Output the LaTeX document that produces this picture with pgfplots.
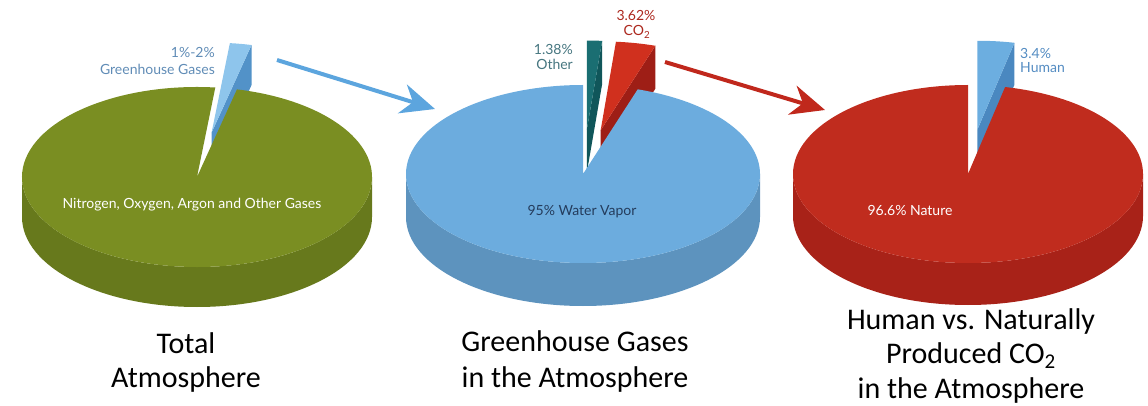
\documentclass[border=0pt]{standalone}
\usepackage{pgfplots}
\pgfplotsset{compat=1.18}
\usepackage{fontspec}
\setmainfont{Lato}
\newfontfamily\titlefont{Carlito}
\usetikzlibrary{arrows.meta}

% face colours (top / side) of the three pies and their exploded slices
\definecolor{grnTop}{RGB}{122,142,34}
\definecolor{grnSide}{RGB}{103,121,28}
\definecolor{bluTop}{RGB}{108,172,222}
\definecolor{bluSide}{RGB}{93,147,190}
\definecolor{redTop}{RGB}{192,44,30}
\definecolor{redSide}{RGB}{168,34,24}
\definecolor{ghgTop}{RGB}{142,197,236}
\definecolor{ghgSide}{RGB}{82,146,200}
\definecolor{othTop}{RGB}{26,110,114}
\definecolor{othSide}{RGB}{16,86,90}
\definecolor{co2Top}{RGB}{208,48,30}
\definecolor{co2Side}{RGB}{158,30,22}
\definecolor{humTop}{RGB}{108,174,224}
\definecolor{humSide}{RGB}{74,136,192}
\definecolor{arrBlue}{RGB}{92,165,222}
\definecolor{arrRed}{RGB}{192,40,28}
\definecolor{txtGhg}{RGB}{96,140,182}
\definecolor{txtOth}{RGB}{70,118,128}
\definecolor{txtCo2}{RGB}{172,40,30}
\definecolor{txtWat}{RGB}{36,60,92}
\definecolor{txtHum}{RGB}{84,140,194}

% pie geometry in picture units: centre x, centre y, radii a and b, depth d
% front rim of a pie:  #1 cx, #2 cy, #3 a, #4 b, #5 d, #6 colour
\newcommand{\pieside}[6]{%
  \fill[#6] (axis cs:#1,#2) ++(180:#3pt and #4pt)
    arc[start angle=180,end angle=360,x radius=#3pt,y radius=#4pt]
    -- ++(0,-#5pt)
    arc[start angle=360,end angle=180,x radius=#3pt,y radius=#4pt] -- cycle;}
% top of the main slice between the angles #5 and #6
\newcommand{\pietop}[7]{%
  \fill[#7] (axis cs:#1,#2) -- ++(#5:#3pt and #4pt)
    arc[start angle=#5,end angle=#6,x radius=#3pt,y radius=#4pt] -- cycle;}
% exploded slice: #1 cx, #2 cy, #3 a, #4 b, #5 d, #6 start angle, #7 share (%),
% #8 top colour, #9 side colour; slices run clockwise from the start angle
\newcommand{\pieslice}[9]{\pgfplotsextra{%
  \pgfmathsetmacro\whi{#6}%
  \pgfmathsetmacro\wlo{#6-3.6*#7}%
  \pgfmathsetmacro\wmid{(\whi+\wlo)/2}%
  \pgfmathsetmacro\wpx{#1+0.5*#3*cos(\wmid)}%
  \pgfmathsetmacro\wpy{#2-0.5*#4*sin(\wmid)}%
  \pgfmathsetmacro\wrx{\wpx+#3*cos(\wlo)}%
  \pgfmathsetmacro\wry{\wpy-#4*sin(\wlo)}%
  \pgfmathsetmacro\wpyd{\wpy+#5}%
  \pgfmathsetmacro\wryd{\wry+#5}%
  \fill[#9] (axis cs:\wpx,\wpy) -- (axis cs:\wrx,\wry) -- (axis cs:\wrx,\wryd)
    -- (axis cs:\wpx,\wpyd) -- cycle;
  \fill[#8] (axis cs:\wpx,\wpy) -- (axis cs:\wrx,\wry)
    arc[start angle=\wlo,end angle=\whi,x radius=#3pt,y radius=#4pt] -- cycle;}}

\begin{document}
\begin{tikzpicture}
\begin{axis}[
  width=1148pt, height=406pt, scale only axis,
  xmin=0, xmax=1148, ymin=0, ymax=406, y dir=reverse,
  hide axis, clip=false]
\path (axis cs:0,0) rectangle (axis cs:1148,406);

% ---- Total atmosphere: greenhouse gases 2 %, rest 98 %
\pieslice{197}{177}{175}{90}{40}{84}{2}{ghgTop}{ghgSide}
\pieside{197}{177}{175}{90}{40}{grnSide}
\pietop{197}{177}{175}{90}{-276}{76.8}{grnTop}

% ---- Greenhouse gases: other 1.38 %, CO2 3.62 %, water vapour 95 %
\pieslice{583}{174}{177}{89}{43}{90}{1.38}{othTop}{othSide}
\pieslice{583}{174}{177}{89}{43}{85.032}{3.62}{co2Top}{co2Side}
\pieside{583}{174}{177}{89}{43}{bluSide}
\pietop{583}{174}{177}{89}{-270}{72}{bluTop}

% ---- CO2: human 3.4 %, nature 96.6 %
\pieslice{968}{174}{175}{89}{42}{90}{3.4}{humTop}{humSide}
\pieside{968}{174}{175}{89}{42}{redSide}
\pietop{968}{174}{175}{89}{-270}{77.76}{redTop}

% ---- arrows between the pies
\draw[line width=4pt, arrBlue, -{Stealth[length=34pt,width=30pt,inset=11pt]}]
  (axis cs:277,60) -- (axis cs:435,109);
\draw[line width=4pt, arrRed, -{Stealth[length=34pt,width=30pt,inset=11pt]}]
  (axis cs:665,62) -- (axis cs:825,110);

% ---- slice labels
\begin{scope}[font=\fontsize{14}{16}\selectfont]
\node[anchor=east, txtGhg, inner sep=0pt] at (axis cs:215,52) {1\%-2\%};
\node[anchor=east, txtGhg, inner sep=0pt] at (axis cs:215,69) {Greenhouse Gases};
\node[white] at (axis cs:192,205) {Nitrogen, Oxygen, Argon and Other Gases};
\node[anchor=east, txtOth, inner sep=0pt] at (axis cs:573,49) {1.38\%};
\node[anchor=east, txtOth, inner sep=0pt] at (axis cs:573,64) {Other};
\node[txtCo2, inner sep=0pt] at (axis cs:636,15) {3.62\%};
\node[txtCo2, inner sep=0pt] at (axis cs:637,32) {CO\textsubscript{2}};
\node[txtWat] at (axis cs:582,212) {95\% Water Vapor};
\node[anchor=west, txtHum, inner sep=0pt] at (axis cs:1020,53) {3.4\%};
\node[anchor=west, txtHum, inner sep=0pt] at (axis cs:1020,68) {Human};
\node[white] at (axis cs:910,210) {96.6\% Nature};
\end{scope}

% ---- titles under the pies
\begin{scope}[font=\titlefont\fontsize{30}{36}\selectfont, inner sep=0pt]
\node at (axis cs:186,343) {Total};
\node at (axis cs:186,380) {Atmosphere};
\node at (axis cs:575,341) {Greenhouse Gases};
\node at (axis cs:575,380) {in the Atmosphere};
\node at (axis cs:971,322) {Human vs. Naturally};
\node at (axis cs:971,356) {Produced CO\textsubscript{2}};
\node at (axis cs:971,390) {in the Atmosphere};
\end{scope}
\end{axis}
\end{tikzpicture}
\end{document}
